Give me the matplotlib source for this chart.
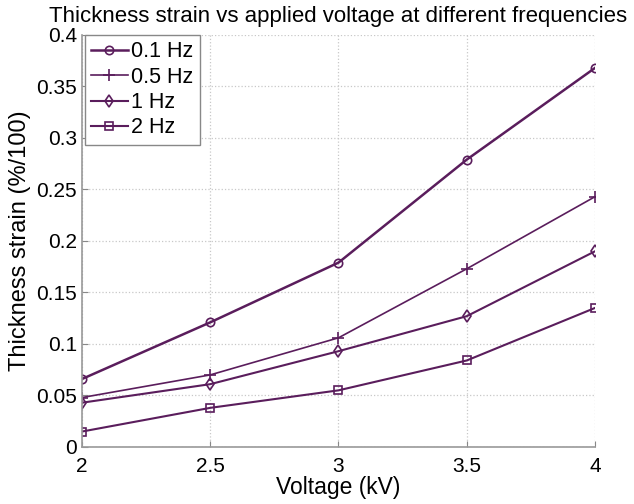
import matplotlib
matplotlib.use("Agg")
import matplotlib.pyplot as plt

# data
voltage = [2, 2.5, 3, 3.5, 4]
strain_01hz = [0.066, 0.121, 0.179, 0.279, 0.368]
strain_05hz = [0.048, 0.070, 0.106, 0.173, 0.243]
strain_1hz = [0.043, 0.061, 0.093, 0.127, 0.190]
strain_2hz = [0.015, 0.038, 0.055, 0.084, 0.135]
labels = ['0.1 Hz', '0.5 Hz', '1 Hz', '2 Hz']

plt.rcParams['font.family'] = ['Liberation Sans', 'DejaVu Sans']
col = '#5a1d5c'

fig = plt.figure(figsize=(6.34, 5.04), dpi=100)
ax = fig.add_axes([0.1293, 0.1131, 0.8092, 0.8175])

ax.plot(voltage, strain_01hz, color=col, lw=1.8, marker='o', ms=6, mfc='none', mew=1.2, label=labels[0])
ax.plot(voltage, strain_05hz, color=col, lw=1.2, marker='+', ms=8, mew=1.2, label=labels[1])
ax.plot(voltage, strain_1hz, color=col, lw=1.5, marker='d', ms=6, mfc='none', mew=1.2, label=labels[2])
ax.plot(voltage, strain_2hz, color=col, lw=1.5, marker='s', ms=6, mfc='none', mew=1.2, label=labels[3])

ax.set_xlim(2, 4)
ax.set_ylim(0, 0.4)
ax.set_xticks([2, 2.5, 3, 3.5, 4])
ax.set_xticklabels(['2', '2.5', '3', '3.5', '4'])
ax.set_yticks([0, 0.05, 0.1, 0.15, 0.2, 0.25, 0.3, 0.35, 0.4])
ax.set_yticklabels(['0', '0.05', '0.1', '0.15', '0.2', '0.25', '0.3', '0.35', '0.4'])
ax.grid(True, linestyle=':', color='#c8c8c8', lw=0.9)
ax.tick_params(labelsize=15, direction='in', color='#888888', length=4)
ax.tick_params(axis='x', pad=7)

for s in ['top', 'right']:
    ax.spines[s].set_visible(False)
for s in ['left', 'bottom']:
    ax.spines[s].set_color('#999999')
    ax.spines[s].set_linewidth(1.2)

ax.set_xlabel('Voltage (kV)', fontsize=16.5, labelpad=0)
ax.set_ylabel('Thickness strain (%/100)', fontsize=17, labelpad=4)
ax.set_title('Thickness strain vs applied voltage at different frequencies', fontsize=16, pad=9)

leg = ax.legend(loc='upper left', fontsize=15.5, fancybox=False, framealpha=1,
                handlelength=1.7, handletextpad=0.15, borderaxespad=0.0, borderpad=0.3,
                labelspacing=0.2, bbox_to_anchor=(0.005, 1.0))
leg.get_frame().set_edgecolor('#888888')
leg.get_frame().set_linewidth(1.0)

fig.savefig('out.png', dpi=100)
